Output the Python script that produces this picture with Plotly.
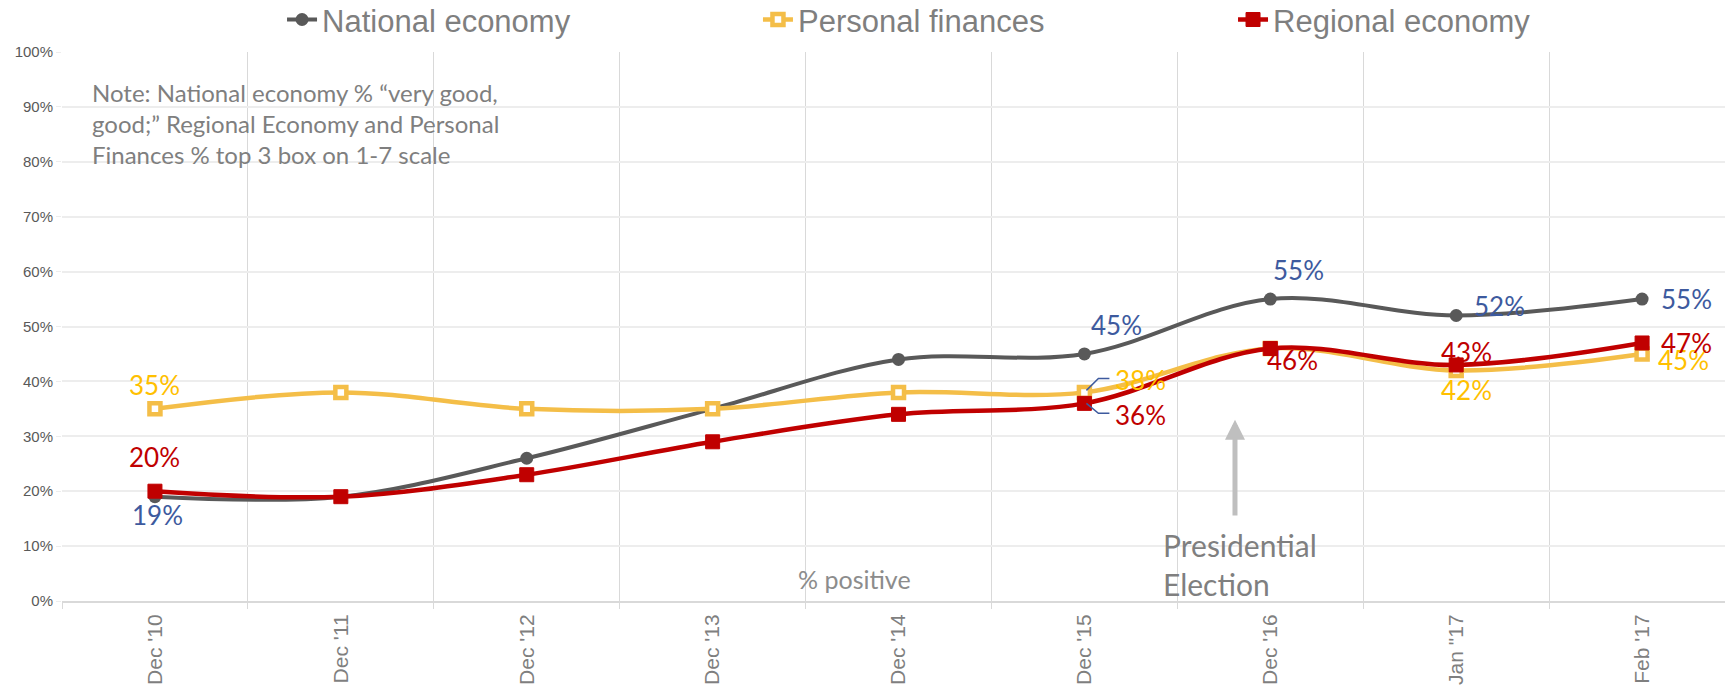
import plotly.graph_objects as go

periods = ["Dec '10", "Dec '11", "Dec '12", "Dec '13", "Dec '14", "Dec '15", "Dec '16", 'Jan "17', "Feb '17"]
national = [19, 19, 26, 35, 44, 45, 55, 52, 55]
personal = [35, 38, 35, 35, 38, 38, 46, 42, 45]
regional = [20, 19, 23, 29, 34, 36, 46, 43, 47]

NAT_C, PER_C, REG_C = "#595959", "#F4BE48", "#C00000"
NAT_T, PER_T, REG_T = "#3D5A9E", "#FFC000", "#C00000"
GRAY_TXT = "#7F7F7F"

# which points get a label, and the label offset in px (dx, dy; dy up)
nat_labels = {0: (3, -18), 5: (32, 29), 6: (28, 29), 7: (43, 10), 8: (44, 0)}
per_labels = {0: (0, 24), 5: (56, 12), 7: (10, -20), 8: (41, -6)}
reg_labels = {0: (0, 34), 5: (56, -12), 6: (22, -12), 7: (10, 13), 8: (44, 0)}

x = list(range(len(periods)))

fig = go.Figure()
fig.add_trace(go.Scatter(
    x=x, y=national, name="National economy", mode="lines+markers",
    line=dict(color=NAT_C, width=4, shape="spline", smoothing=1),
    marker=dict(symbol="circle", size=13, color=NAT_C), legend="legend"))
fig.add_trace(go.Scatter(
    x=x, y=personal, name="Personal finances", mode="lines+markers",
    line=dict(color=PER_C, width=4.5, shape="spline", smoothing=1),
    marker=dict(symbol="square", size=11, color="white", line=dict(color=PER_C, width=4.5)),
    legend="legend2"))
fig.add_trace(go.Scatter(
    x=x, y=regional, name="Regional economy", mode="lines+markers",
    line=dict(color=REG_C, width=4.5, shape="spline", smoothing=1),
    marker=dict(symbol="square", size=14, color=REG_C, line=dict(color=REG_C, width=1)),
    legend="legend3"))

annotations = []
for values, labels, col in [(national, nat_labels, NAT_T), (personal, per_labels, PER_T), (regional, reg_labels, REG_T)]:
    for i, (dx, dy) in labels.items():
        annotations.append(dict(
            x=x[i], y=values[i], text=f"{values[i]}%", showarrow=False,
            xshift=dx, yshift=dy, font=dict(family="Lato", size=26, color=col)))

annotations += [
    dict(x=-0.35, y=87, xanchor="left", yanchor="middle", align="left", showarrow=False,
         text="Note: National economy % \u201cvery good,<br>good;\u201d Regional Economy and Personal<br>Finances % top 3 box on 1-7 scale",
         font=dict(family="Lato", size=24, color=GRAY_TXT)),
    dict(x=3.765, y=4, showarrow=False, text="% positive",
         font=dict(family="Lato", size=25, color="#8C8C8C")),
    dict(x=5.41, y=6.7, xanchor="left", yanchor="middle", align="left", showarrow=False,
         text="Presidential<br>Election", font=dict(family="Lato", size=30, color=GRAY_TXT)),
    dict(x=5.81, y=33, ax=5.81, ay=15.3, axref="x", ayref="y", text="", showarrow=True,
         arrowhead=2, arrowsize=0.8, arrowwidth=5, arrowcolor="#BFBFBF"),
]

# leader lines for the Dec '15 labels
shapes = [
    dict(type="path", xref="x", yref="y", xsizemode="pixel", ysizemode="pixel",
         xanchor=x[5], yanchor=personal[5], path="M2,2 L14,14 L25,14",
         line=dict(color=NAT_T, width=1.5)),
    dict(type="path", xref="x", yref="y", xsizemode="pixel", ysizemode="pixel",
         xanchor=x[5], yanchor=regional[5], path="M2,0 L14,-10 L25,-10",
         line=dict(color=NAT_T, width=1.5)),
]

legend_style = dict(orientation="h", xanchor="left", yanchor="middle",
                    xref="container", yref="container", y=0.971,
                    bgcolor="rgba(0,0,0,0)",
                    font=dict(family="Liberation Sans", size=31, color=GRAY_TXT))

fig.update_layout(
    template="none",
    width=1725, height=685,
    margin=dict(l=62, r=0, t=52, b=84),
    plot_bgcolor="white", paper_bgcolor="white",
    showlegend=True,
    legend=dict(x=0.1635, **legend_style),
    legend2=dict(x=0.4394, **legend_style),
    legend3=dict(x=0.7148, **legend_style),
    annotations=annotations,
    shapes=shapes,
    xaxis=dict(
        range=[-0.5, 8.446], tickmode="array", tickvals=x, ticktext=periods,
        tickangle=-90, ticks="", showgrid=False, zeroline=False, automargin=False,
        showline=True, linecolor="#D9D9D9", linewidth=2,
        tickfont=dict(family="Liberation Sans", size=21, color=GRAY_TXT),
        ticklabelstandoff=3,
        minor=dict(tickmode="array", tickvals=[i - 0.5 for i in x] + [8.5],
                   showgrid=True, gridcolor="#D9D9D9", gridwidth=1,
                   ticks="outside", ticklen=6, tickcolor="#D9D9D9"),
    ),
    yaxis=dict(
        range=[0, 100], dtick=10, ticksuffix="%", zeroline=False, automargin=False,
        showgrid=True, gridcolor="#EDEDED", gridwidth=1.5,
        ticks="outside", ticklen=5, tickcolor="#EDEDED",
        tickfont=dict(family="Liberation Sans", size=15, color="#595959"),
    ),
)

# drop the default page margin so the figure sits at the window's corner
fig.write_html("out.html", config={"displayModeBar": False},
               post_script="document.body.style.margin='0';")
